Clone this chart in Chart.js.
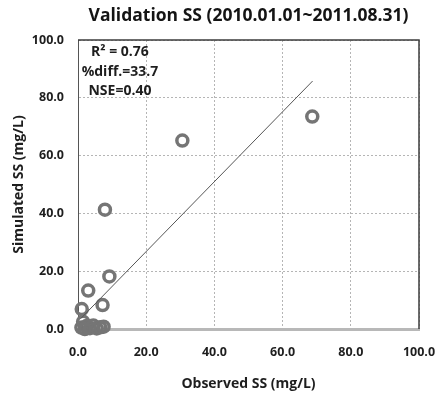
<!DOCTYPE html>
<html>
<head>
<meta charset="utf-8">
<script src="https://cdn.jsdelivr.net/npm/chart.js@4"></script>
<style>
  html, body { margin: 0; padding: 0; background: #fff; overflow: hidden; }
  #wrap { width: 436px; height: 396px; position: relative; }
</style>
</head>
<body>
<div id="wrap"><canvas id="ScatterChart"></canvas></div>
<script>
// observed vs simulated SS (mg/L)
var observed  = [68.7, 30.6, 7.9, 9.2, 3.0, 7.2, 1.1, 1.0, 1.5, 2.5, 3.5, 4.5, 5.5, 6.5, 7.5, 2.0];
var simulated = [73.5, 65.2, 41.3, 18.2, 13.3, 8.3, 6.9, 0.5, 2.5, 1.0, 0.3, 1.2, 0.2, 0.6, 0.8, 0.0];

// trendline end points
var trendX = [0.8, 68.8];
var trendY = [3.6, 85.8];

var tickValues = [0, 20, 40, 60, 80, 100];

var statLabels = ['R\u00b2 = 0.76', '%diff.=33.7', 'NSE=0.40'];
var statX = 12.3;
var statY = [95.8, 88.9, 82.3];

var FONT = "'Open Sans', 'DejaVu Sans', sans-serif";

var statsPlugin = {
  id: 'stats',
  afterDatasetsDraw: function (chart) {
    var ctx = chart.ctx, xs = chart.scales.x, ys = chart.scales.y, a = chart.chartArea;
    ctx.save();
    // plot frame: top and right edges
    ctx.strokeStyle = '#3c3c3c';
    ctx.lineWidth = 1.5;
    ctx.beginPath();
    ctx.moveTo(a.left, a.top);
    ctx.lineTo(a.right, a.top);
    ctx.lineTo(a.right, a.bottom);
    ctx.stroke();
    // stats text
    ctx.fillStyle = '#1e1e1e';
    ctx.font = 'bold 14px ' + FONT;
    ctx.textAlign = 'center';
    ctx.textBaseline = 'middle';
    statLabels.forEach(function (t, i) {
      ctx.fillText(t, xs.getPixelForValue(statX), ys.getPixelForValue(statY[i]));
    });
    ctx.restore();
  }
};

function gridColor(c) {
  return c.tick && c.tick.value === 0 ? 'rgba(0,0,0,0)' : '#b5b5b5';
}

var ctx = document.getElementById('ScatterChart').getContext('2d');

var myChart = new Chart(ctx, {
  type: 'scatter',
  data: {
    datasets: [{
      type: 'line',
      data: trendX.map(function (x, i) { return { x: x, y: trendY[i] }; }),
      borderColor: '#555',
      borderWidth: 1,
      pointRadius: 0,
      fill: false,
      order: 0
    }, {
      data: observed.map(function (x, i) { return { x: x, y: simulated[i] }; }),
      pointStyle: 'circle',
      pointRadius: 5.5,
      borderWidth: 3.5,
      borderColor: '#757575',
      backgroundColor: 'rgba(0,0,0,0)',
      clip: false,
      order: 1
    }]
  },
  options: {
    responsive: true,
    maintainAspectRatio: false,
    animation: false,
    layout: { padding: { left: 0, right: 17, top: 0, bottom: 0 } },
    plugins: {
      legend: { display: false },
      tooltip: { enabled: false },
      title: {
        display: true,
        fullSize: false,
        text: 'Validation SS (2010.01.01~2011.08.31)',
        color: '#141414',
        font: { family: FONT, size: 17.5, weight: 'bold' },
        padding: { top: 6, bottom: 13 }
      }
    },
    scales: {
      x: {
        type: 'linear',
        min: 0, max: 100,
        afterFit: function (s) { s.height = 67; s.paddingLeft = 0; s.paddingRight = 0; },
        afterBuildTicks: function (s) { s.ticks = tickValues.map(function (v) { return { value: v }; }); },
        ticks: {
          padding: 16,
          color: '#1e1e1e',
          font: { family: FONT, size: 12.5, weight: 'bold' },
          callback: function (v) { return Number(v).toFixed(1); }
        },
        grid: { color: gridColor, lineWidth: 1, drawTicks: false },
        border: { display: true, color: '#b8b8b8', width: 3, dash: [2, 2] },
        title: {
          display: true,
          text: 'Observed SS (mg/L)',
          color: '#1e1e1e',
          font: { family: FONT, size: 14, weight: 'bold' },
          padding: { top: 4, bottom: 4 }
        }
      },
      y: {
        type: 'linear',
        min: 0, max: 100,
        afterFit: function (s) { s.width = 78; s.paddingTop = 0; s.paddingBottom = 0; },
        afterBuildTicks: function (s) { s.ticks = tickValues.map(function (v) { return { value: v }; }); },
        ticks: {
          padding: 14,
          color: '#1e1e1e',
          font: { family: FONT, size: 12.5, weight: 'bold' },
          callback: function (v) { return Number(v).toFixed(1); }
        },
        grid: { color: gridColor, lineWidth: 1, drawTicks: false },
        border: { display: true, color: '#555', width: 1, dash: [2, 2] },
        title: {
          display: true,
          text: 'Simulated SS (mg/L)',
          color: '#1e1e1e',
          font: { family: FONT, size: 14, weight: 'bold' },
          padding: { top: 11, bottom: 4 }
        }
      }
    }
  },
  plugins: [statsPlugin]
});
</script>
</body>
</html>
